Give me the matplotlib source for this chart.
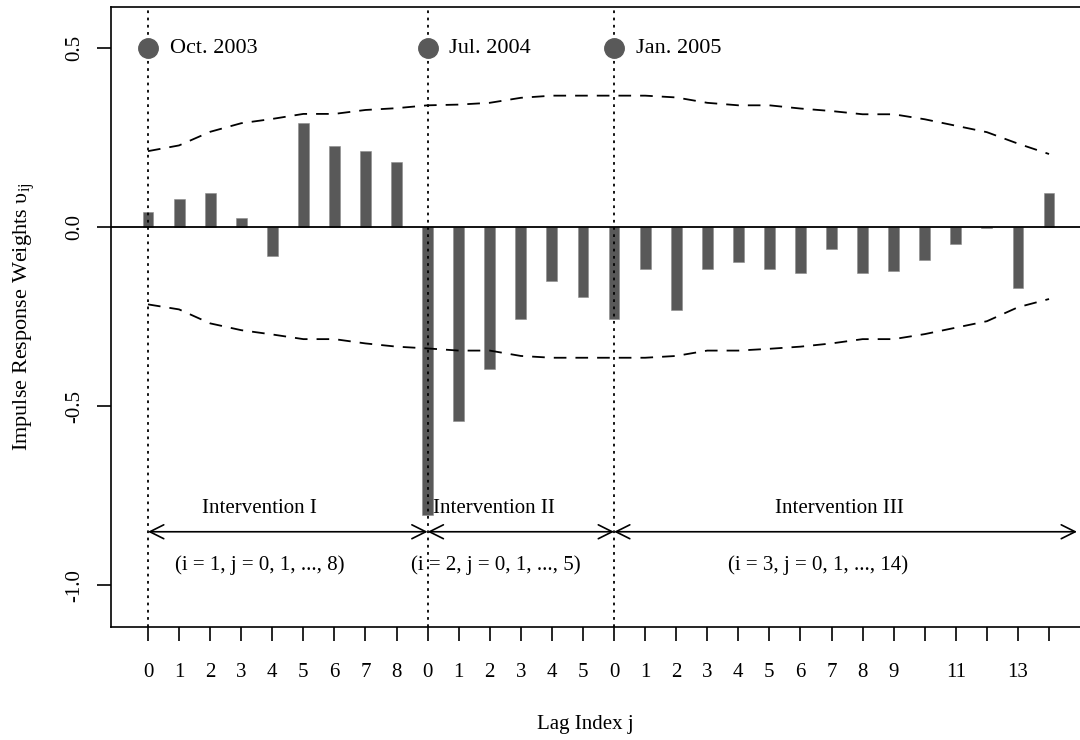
import numpy as np
import matplotlib
matplotlib.use("Agg")
import matplotlib.pyplot as plt

plt.rcParams['font.family'] = ['Liberation Serif', 'DejaVu Serif']
plt.rcParams['mathtext.fontset'] = 'custom'
plt.rcParams['mathtext.rm'] = 'Liberation Serif'

# impulse response weights, interventions I (j=0..8), II (j=0..5), III (j=0..14)
w1 = [0.043, 0.078, 0.094, 0.026, -0.081, 0.290, 0.227, 0.212, 0.181]
w2 = [-0.804, -0.542, -0.397, -0.258, -0.150, -0.196]
w3 = [-0.257, -0.118, -0.231, -0.118, -0.098, -0.118, -0.128, -0.061,
      -0.128, -0.123, -0.092, -0.046, -0.004, -0.170, 0.094]
# confidence band (upper / lower), one value per lag position
upper = [0.212, 0.228, 0.266, 0.290, 0.302, 0.316, 0.316, 0.327, 0.332, 0.340,
         0.342, 0.347, 0.361, 0.367, 0.367, 0.367, 0.367, 0.362, 0.347, 0.340,
         0.340, 0.331, 0.324, 0.315, 0.315, 0.301, 0.283, 0.265, 0.233, 0.204]
lower = [-0.216, -0.230, -0.269, -0.288, -0.300, -0.313, -0.313, -0.325, -0.334, -0.339,
         -0.345, -0.345, -0.360, -0.365, -0.365, -0.365, -0.365, -0.360, -0.345, -0.345,
         -0.340, -0.334, -0.325, -0.313, -0.313, -0.299, -0.281, -0.263, -0.224, -0.201]
dates = ["Oct. 2003", "Jul. 2004", "Jan. 2005"]
names = ["Intervention I", "Intervention II", "Intervention III"]
ranges = ["(i = 1, j = 0, 1, ..., 8)", "(i = 2, j = 0, 1, ..., 5)", "(i = 3, j = 0, 1, ..., 14)"]

weights = np.array(w1 + w2 + w3)
pos = np.arange(len(weights))
starts = [0, len(w1), len(w1) + len(w2)]
ends = [len(w1), len(w1) + len(w2), len(weights) - 0.1]

labels = [str(j) for j in range(len(w1))] + [str(j) for j in range(len(w2))] + \
         [str(j) if j in (0, 1, 2, 3, 4, 5, 6, 7, 8, 9, 11, 13) else "" for j in range(len(w3))]

fig = plt.figure(figsize=(10.8, 7.4), dpi=100)
ax = fig.add_axes([0.1028, 0.1527, 0.9065, 0.8378])

grey = "#595959"
ax.bar(pos, weights, width=0.35, color=grey, edgecolor="#8c8c8c", linewidth=0.4, zorder=2)
ax.axhline(0, color="black", lw=1.3, zorder=3)
ax.plot(pos, upper, color="black", lw=1.3, dashes=(7, 5))
ax.plot(pos, lower, color="black", lw=1.3, dashes=(7, 5))

for s, d in zip(starts, dates):
    ax.axvline(s, color="black", lw=1.3, ls=(0, (1.5, 2.5)), zorder=4)
    ax.plot(s, 0.5, "o", color=grey, ms=14, zorder=5)
    ax.text(s + 0.7, 0.5, d, fontsize=16, va="center", ha="left")

arrow_y = -0.851
for s, e in zip(starts, ends):
    ax.annotate("", xy=(e, arrow_y), xytext=(s, arrow_y),
                arrowprops=dict(arrowstyle="<->,head_length=1.0,head_width=0.5",
                                mutation_scale=10, lw=1.2, color="black",
                                shrinkA=0, shrinkB=0))

name_x = [3.6, 11.15, 22.25]
range_x = [3.6, 11.18, 21.56]
for nx, rx, n, r in zip(name_x, range_x, names, ranges):
    ax.text(nx, -0.785, n, fontsize=15, ha="center", va="center")
    ax.text(rx, -0.944, r, fontsize=15, ha="center", va="center")

ax.set_xlim(-1.19, 30.32)
ax.set_ylim(-1.117, 0.6145)
ax.set_xticks(pos)
ax.set_xticklabels(labels, fontsize=15)
ax.set_yticks([-1.0, -0.5, 0.0, 0.5])
ax.set_yticklabels(["-1.0", "-0.5", "0.0", "0.5"], fontsize=15, rotation=90, va="center")
ax.tick_params(axis="x", length=10, width=1.2, pad=16)
ax.tick_params(axis="y", length=10, width=1.2, pad=9)
for sp in ax.spines.values():
    sp.set_linewidth(1.2)

ax.set_ylabel(r"Impulse Response Weights υ$_{\mathrm{ij}}$", fontsize=16, labelpad=20)
fig.text(585 / 1080, 1 - 725 / 740, "Lag Index j", fontsize=15, ha="center", va="center")

fig.savefig("out.png", dpi=100)
